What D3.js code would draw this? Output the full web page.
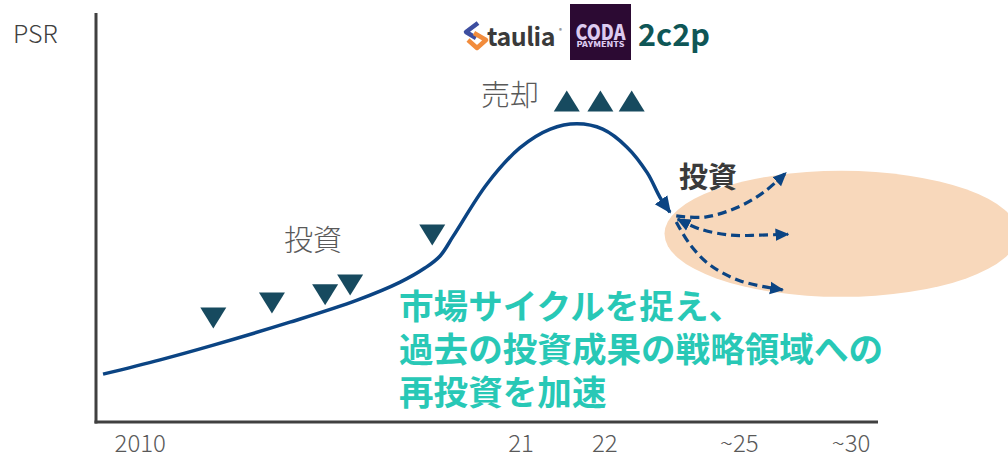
<!DOCTYPE html>
<html>
<head>
<meta charset="utf-8">
<script src="https://cdn.jsdelivr.net/npm/d3@7/dist/d3.min.js"></script>
<style>
  html, body { margin: 0; padding: 0; background: #fff; }
  svg { display: block; }
  text { font-family: "Noto Sans CJK JP", "Noto Sans", sans-serif; }
</style>
</head>
<body>
<svg id="chart" width="1008" height="455"></svg>
<script>
// ---- data (conceptual units: x = time index 0..100, y = PSR 0..100) ----
const tickLabels = ["2010", "21", "22", "~25", "~30"];
const tickPositions = [5.6, 54.3, 65.0, 82.2, 96.5];

const cycleX = [0.9, 8.2, 15.0, 24.8, 33.4, 38.9, 42.1, 44.0, 45.7, 50.0, 54.2, 58.1, 61.5, 64.8, 67.9, 70.5, 72.1, 73.4];
const cycleY = [11.7, 15.2, 18.8, 24.4, 29.8, 34.2, 37.7, 40.6, 45.5, 58.2, 67.0, 71.6, 72.9, 71.6, 67.2, 60.9, 55.0, 51.3];

const investX = [15.0, 22.5, 29.3, 32.5, 43.0];
const investY = [25.4, 29.1, 31.1, 33.5, 45.7];

const exitX = [60.2, 64.5, 68.5];
const exitY = [78.5, 78.5, 78.5];

const reinvestUpX = [74.2, 77.9, 82.4, 85.6, 88.2];
const reinvestUpY = [50.4, 50.1, 52.8, 56.5, 60.9];
const reinvestMidX = [74.4, 77.2, 81.1, 84.9, 88.5];
const reinvestMidY = [49.6, 47.2, 45.7, 45.7, 45.9];
const reinvestDownX = [74.2, 76.0, 78.5, 82.4, 87.8];
const reinvestDownY = [48.9, 43.3, 38.4, 34.5, 32.3];

const zoneCenter = [95.3, 46.0];
const zoneRadius = [22.6, 15.4];

const headline = ["市場サイクルを捉え、", "過去の投資成果の戦略領域への", "再投資を加速"];

// ---- scales ----
const svg = d3.select("#chart");
const x = d3.scaleLinear().domain([0, 100]).range([96, 878]);
const y = d3.scaleLinear().domain([0, 100]).range([422, 13]);

const defs = svg.append("defs");
defs.append("marker").attr("id", "headSolid")
  .attr("viewBox", "0 0 10 10").attr("refX", 9).attr("refY", 5)
  .attr("markerUnits", "userSpaceOnUse").attr("markerWidth", 17).attr("markerHeight", 17)
  .attr("orient", "auto")
  .append("path").attr("d", "M0,0.5 L10,5 L0,9.5 Z").attr("fill", "#0b4483");
defs.append("marker").attr("id", "headDash")
  .attr("viewBox", "0 0 10 10").attr("refX", 9).attr("refY", 5)
  .attr("markerUnits", "userSpaceOnUse").attr("markerWidth", 14).attr("markerHeight", 14)
  .attr("orient", "auto-start-reverse")
  .append("path").attr("d", "M0,0.5 L10,5 L0,9.5 Z").attr("fill", "#0b4483");

// ---- reinvestment zone ----
svg.append("ellipse")
  .attr("cx", x(zoneCenter[0])).attr("cy", y(zoneCenter[1]))
  .attr("rx", x(zoneRadius[0]) - x(0)).attr("ry", y(0) - y(zoneRadius[1]))
  .attr("fill", "#f8d8bb");

// ---- axes ----
svg.append("line").attr("x1", x(0)).attr("x2", x(0)).attr("y1", y(100)).attr("y2", y(0) + 1.5)
  .attr("stroke", "#404040").attr("stroke-width", 3);
svg.append("line").attr("x1", x(0) - 1.5).attr("x2", x(100)).attr("y1", y(0)).attr("y2", y(0))
  .attr("stroke", "#404040").attr("stroke-width", 3);

const xAxis = d3.axisBottom(x).tickValues(tickPositions)
  .tickFormat((d, i) => tickLabels[i]).tickSize(0).tickPadding(0);
const gx = svg.append("g").attr("transform", `translate(0,${y(0)})`).call(xAxis);
gx.select(".domain").remove();
gx.selectAll("text").attr("y", 30).attr("dy", 0)
  .attr("font-size", 24).attr("font-weight", 300).attr("fill", "#595959")
  .attr("font-family", "'Noto Sans', 'Open Sans', sans-serif");

svg.append("text").attr("x", 13).attr("y", 43).text("PSR")
  .attr("font-size", 25).attr("font-weight", 300).attr("fill", "#404040")
  .attr("font-family", "'Noto Sans', 'Open Sans', sans-serif");

// ---- market cycle curve ----
const line = d3.line().x(d => x(d[0])).y(d => y(d[1])).curve(d3.curveCatmullRom.alpha(0.5));
svg.append("path").datum(cycleX.map((v, i) => [v, cycleY[i]]))
  .attr("d", line).attr("fill", "none").attr("stroke", "#0b4483").attr("stroke-width", 3.5)
  .attr("marker-end", "url(#headSolid)");

// ---- reinvestment dashed arrows ----
[[reinvestUpX, reinvestUpY], [reinvestMidX, reinvestMidY], [reinvestDownX, reinvestDownY]].forEach((s, k) => {
  svg.append("path").datum(s[0].map((v, i) => [v, s[1][i]]))
    .attr("d", line).attr("fill", "none").attr("stroke", "#0b4483").attr("stroke-width", 3.2)
    .attr("stroke-dasharray", "9,5")
    .attr("marker-end", "url(#headDash)")
    .attr("marker-start", k === 1 ? "url(#headDash)" : null);
});

// ---- triangles ----
const tri = (w, h, down) => down
  ? `M${-w/2},${-h/2} L${w/2},${-h/2} L0,${h/2} Z`
  : `M${-w/2},${h/2} L${w/2},${h/2} L0,${-h/2} Z`;
svg.selectAll(".inv").data(investX.map((v, i) => [v, investY[i]])).join("path")
  .attr("class", "inv").attr("d", tri(26, 21, true))
  .attr("transform", d => `translate(${x(d[0])},${y(d[1])})`).attr("fill", "#174a5f");
svg.selectAll(".exit").data(exitX.map((v, i) => [v, exitY[i]])).join("path")
  .attr("class", "exit").attr("d", tri(26, 21, false))
  .attr("transform", d => `translate(${x(d[0])},${y(d[1])})`).attr("fill", "#174a5f");

// ---- labels ----
svg.append("text").attr("x", 284).attr("y", 251).text("投資")
  .attr("font-size", 29).attr("font-weight", 300).attr("fill", "#595959");
svg.append("text").attr("x", 481).attr("y", 106).text("売却")
  .attr("font-size", 29).attr("font-weight", 300).attr("fill", "#595959");
svg.append("text").attr("x", 679).attr("y", 188).text("投資")
  .attr("font-size", 29).attr("font-weight", 700).attr("fill", "#3a3a3a");

svg.selectAll(".head").data(headline).join("text")
  .attr("class", "head").attr("x", 399).attr("y", (d, i) => 319 + i * 43)
  .text(d => d).attr("font-size", 34.6).attr("font-weight", 700).attr("fill", "#28c8b6");

// ---- logos ----
const logo = svg.append("g");
// taulia icon
logo.append("path").attr("d", "M478,23 L466,32 L476,38").attr("fill", "none")
  .attr("stroke", "#3d4ea0").attr("stroke-width", 4.5).attr("stroke-linejoin", "round");
logo.append("path").attr("d", "M468,40 L477,48 L486,40 L474,33").attr("fill", "none")
  .attr("stroke", "#f28c3c").attr("stroke-width", 4.5).attr("stroke-linejoin", "round");
logo.append("text").attr("x", 487).attr("y", 46).text("taulia")
  .attr("font-size", 25).attr("font-weight", 700).attr("fill", "#3a3a3a")
  .attr("font-family", "'Open Sans', sans-serif").attr("letter-spacing", -0.5);
logo.append("text").attr("x", 559).attr("y", 33).text("®")
  .attr("font-size", 6).attr("fill", "#3a3a3a");
// CODA
logo.append("rect").attr("x", 570).attr("y", 4).attr("width", 61).attr("height", 56).attr("fill", "#2c0a33");
logo.append("text").attr("x", 600.5).attr("y", 40).attr("text-anchor", "middle").text("CODA")
  .attr("font-size", 21).attr("font-weight", 900).attr("fill", "#dccbf0")
  .attr("font-family", "'Lato', sans-serif").attr("textLength", 50).attr("lengthAdjust", "spacingAndGlyphs");
logo.append("text").attr("x", 600.5).attr("y", 46.5).attr("text-anchor", "middle").text("PAYMENTS")
  .attr("font-size", 7).attr("font-weight", 900).attr("fill", "#dccbf0")
  .attr("font-family", "'Lato', sans-serif").attr("textLength", 48).attr("lengthAdjust", "spacingAndGlyphs");
// 2c2p
logo.append("text").attr("x", 638).attr("y", 46).text("2c2p")
  .attr("font-size", 30).attr("font-weight", 700).attr("fill", "#0f5656")
  .attr("font-family", "'Lato', sans-serif").attr("textLength", 72).attr("lengthAdjust", "spacingAndGlyphs");
</script>
</body>
</html>
